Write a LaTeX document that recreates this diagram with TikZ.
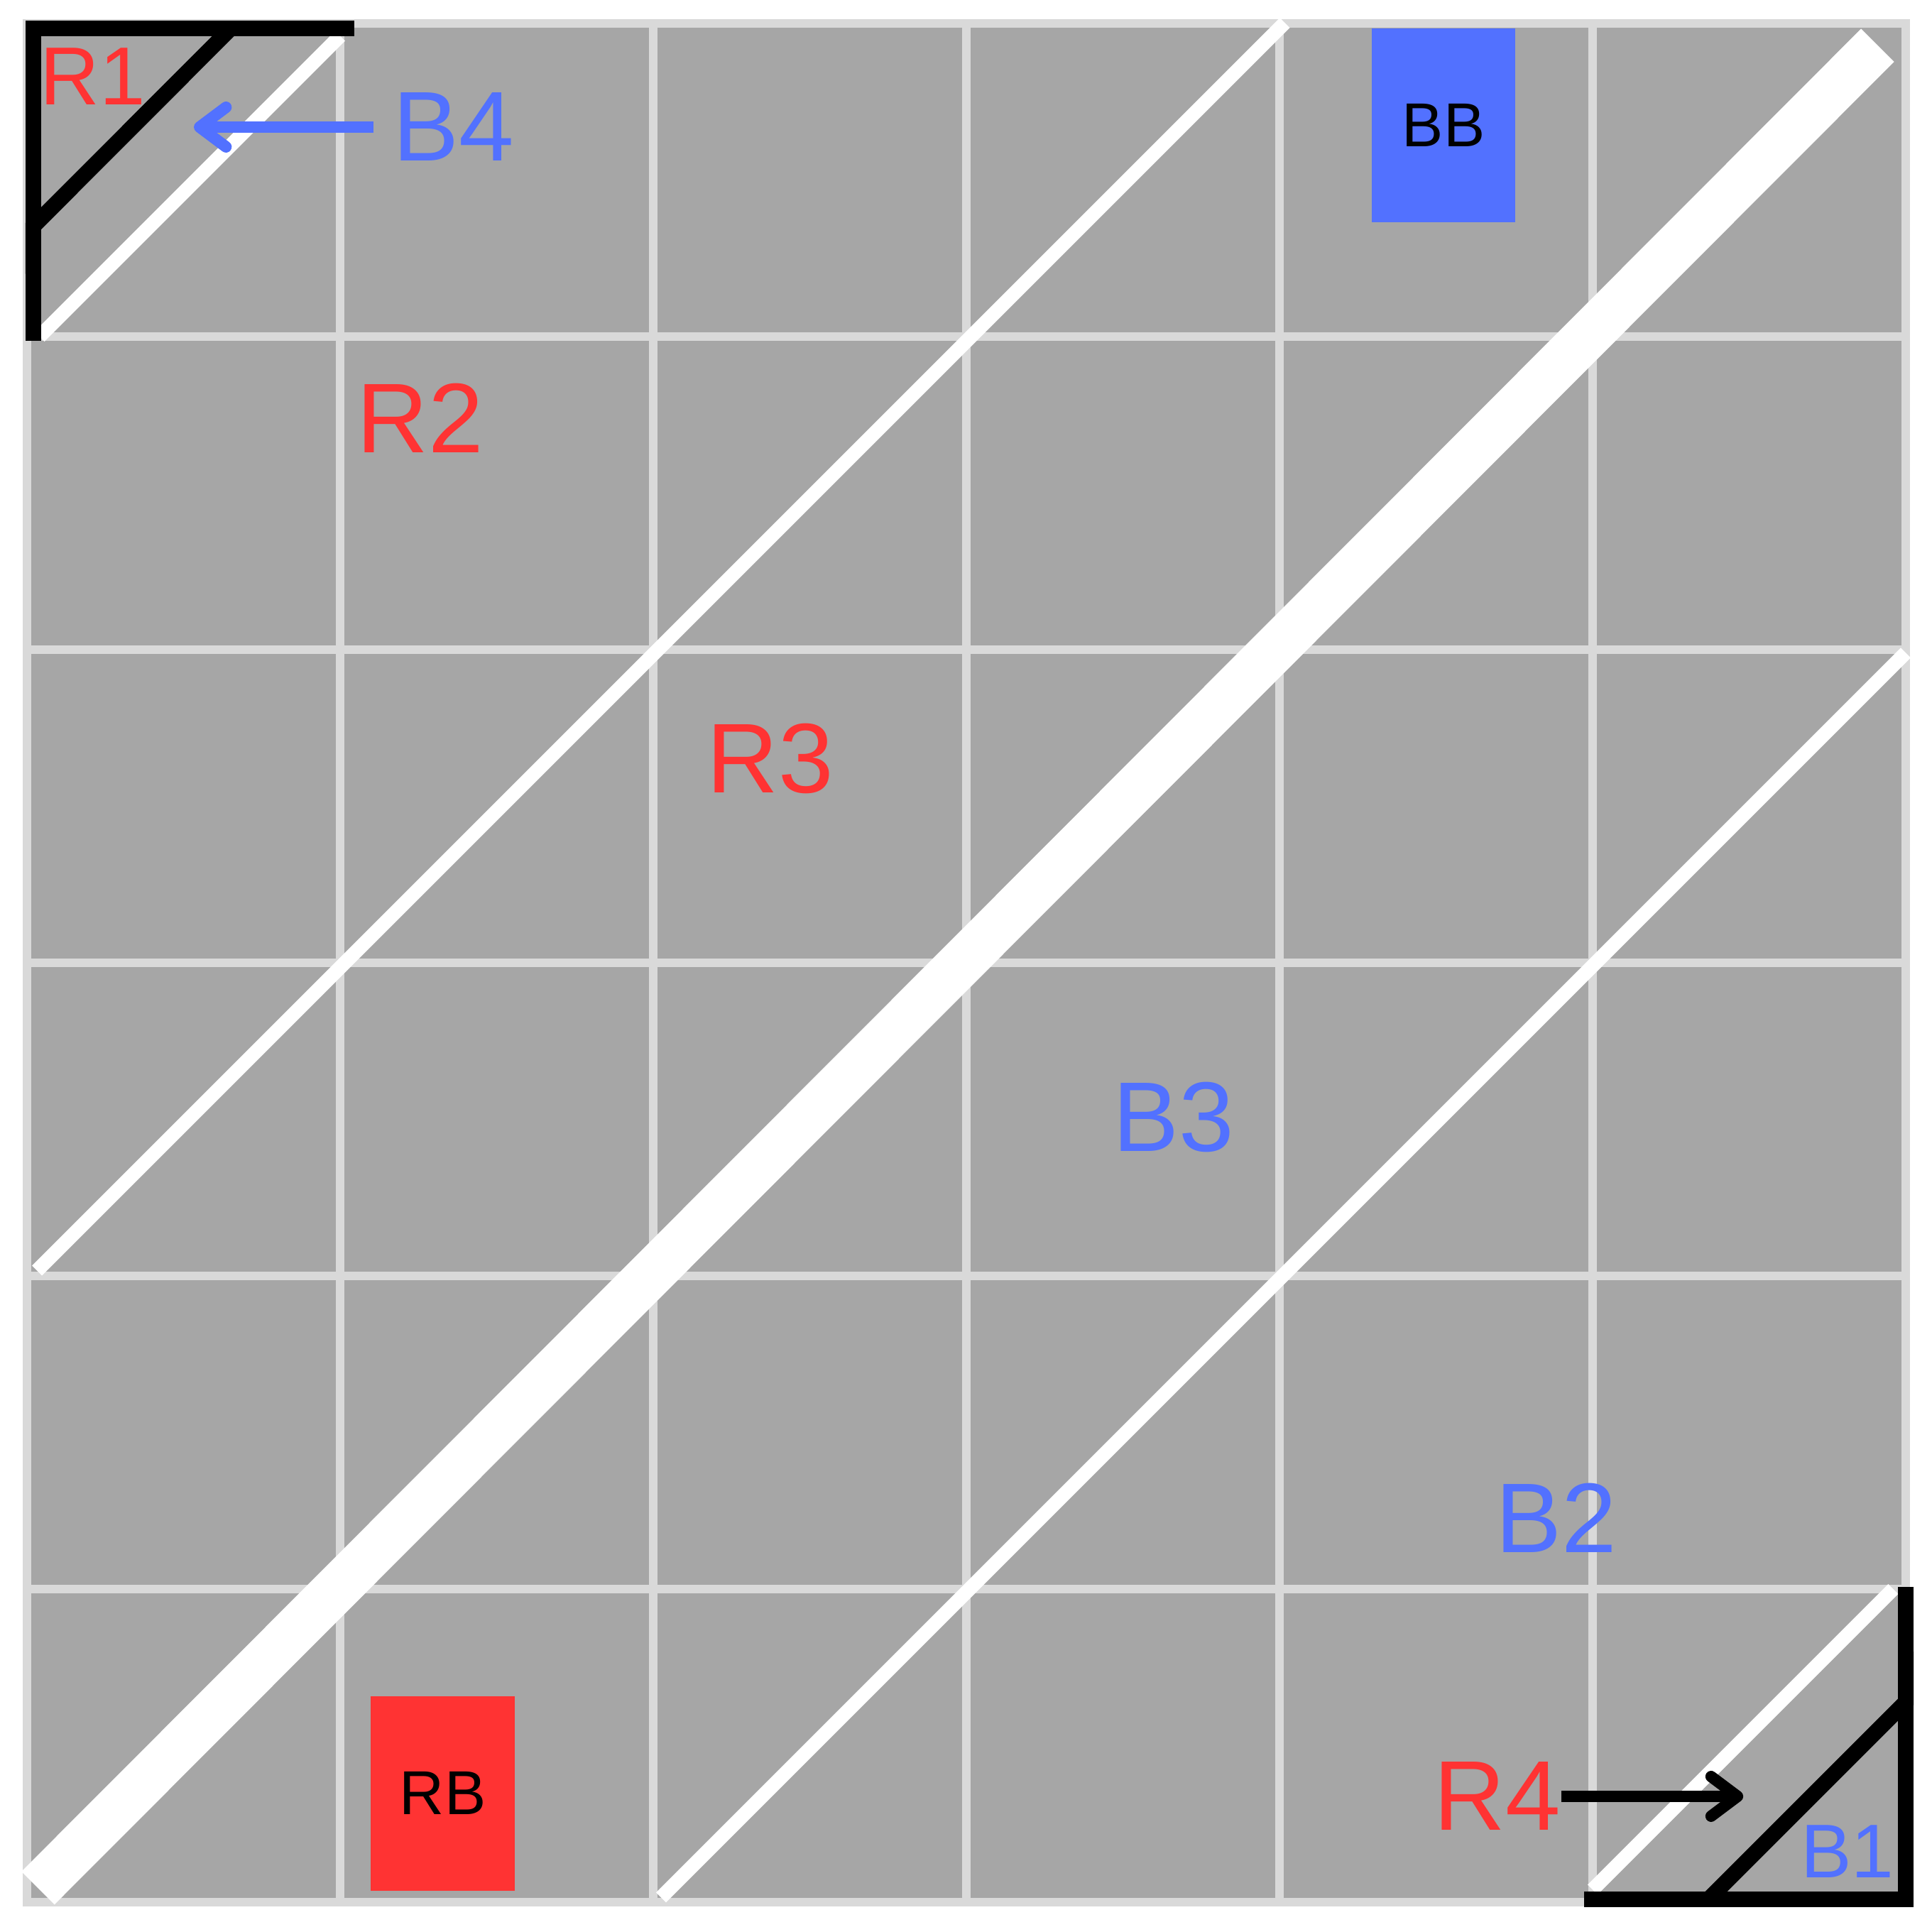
\documentclass[tikz,border=0pt]{standalone}
\usepackage{fontspec}
\setmainfont{Liberation Sans}
\usetikzlibrary{arrows.meta}
\definecolor{cellgray}{HTML}{A6A6A6}
\definecolor{gridgray}{HTML}{D9D9D9}
\definecolor{myred}{HTML}{FF3333}
\definecolor{myblue}{HTML}{5271FF}
\tikzset{
  gridline/.style={draw=gridgray, line width=1.94pt},
  thinwhite/.style={draw=white, line width=3.2pt, line cap=butt},
  thickwhite/.style={draw=white, line width=10.6pt, line cap=butt},
  blk/.style={draw=black, line width=3.55pt, line cap=butt, line join=miter},
  lab/.style={anchor=base, inner sep=0pt, font=\fontsize{22.5}{27}\selectfont},
  labmid/.style={anchor=base, inner sep=0pt, font=\fontsize{18.7}{22}\selectfont},
  labsmall/.style={anchor=base, inner sep=0pt, font=\fontsize{17.3}{21}\selectfont},
  boxlab/.style={inner sep=0pt, font=\fontsize{14.1}{17}\selectfont, text=black},
  barrow/.style={line width=2.6pt, line cap=butt, -{Straight Barb[length=6pt,width=9pt,round]}}
}
\begin{document}
\begin{tikzpicture}[x=2.5cm,y=2.5cm]
\useasboundingbox (-0.0862,-0.0952) rectangle (6.0839,6.0748);
\fill[white] (-0.0862,-0.0952) rectangle (6.0839,6.0748);
% cells
\fill[cellgray] (0,0) rectangle (6,6);
\draw[gridline, step=2.5cm] (0,0) grid (6,6);
\draw[gridline] (0,0) rectangle (6,6);
% white diagonals
\draw[thinwhite] (0.04,5.0) -- (1.0,5.96);
\draw[thinwhite] (0.032,2.017) -- (4.017,6.002);
\draw[thickwhite] (0.035,0.045) -- (5.91,5.93);
\draw[thinwhite] (2.025,0.015) -- (6.0,3.99);
\draw[thinwhite] (5.0,0.04) -- (5.96,1.0);
% boxes
\node[boxlab, fill=myblue, minimum width=1.145cm, minimum height=1.5475cm] (BB) at (4.524,5.6745) {BB};
\node[boxlab, fill=myred, minimum width=1.15cm, minimum height=1.555cm] (RB) at (1.328,0.347) {RB};
% black corner shapes
\draw[blk] (0.02,4.986) -- (0.02,5.983) -- (1.045,5.983);
\draw[blk] (0.65,5.983) -- (0.02,5.352) -- (0.02,5.2);
\draw[blk] (6.0,1.007) -- (6.0,0.009) -- (4.973,0.009);
\draw[blk] (5.37,0.009) -- (6.0,0.639) -- (6.0,0.8);
% labels
\node[labmid, text=myred] (R1) at (0.211,5.741) {R1};
\node[lab, text=myblue, inner xsep=4.3pt] (B4) at (1.363,5.560) {B4};
\node[lab, text=myred] (R2) at (1.256,4.628) {R2};
\node[lab, text=myred] (R3) at (2.374,3.542) {R3};
\node[lab, text=myblue] (B3) at (3.662,2.397) {B3};
\node[lab, text=myblue] (B2) at (4.884,1.116) {B2};
\node[lab, text=myred] (R4) at (4.696,0.229) {R4};
\node[labsmall, text=myblue] (B1) at (5.814,0.079) {B1};
% arrows
\coordinate (b4tip) at (0.533,5.673);
\coordinate (r4tip) at (5.481,0.329);
\draw[barrow, myblue] (B4.west) -- (B4.west -| b4tip);
\draw[barrow, black] (R4.east) -- (R4.east -| r4tip);
\end{tikzpicture}
\end{document}
